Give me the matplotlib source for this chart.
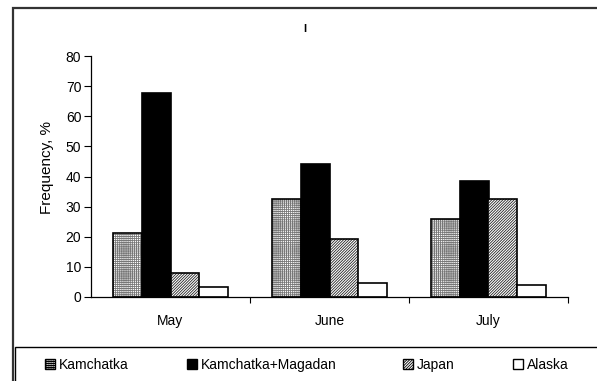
import matplotlib
matplotlib.use("Agg")
import matplotlib.pyplot as plt
from matplotlib.patches import Rectangle, Patch
import numpy as np

plt.rcParams['font.family'] = ['Liberation Sans', 'DejaVu Sans']
plt.rcParams['hatch.linewidth'] = 0.6

months = ["May", "June", "July"]
series_names = ["Kamchatka", "Kamchatka+Magadan", "Japan", "Alaska"]
kamchatka = [21.4, 32.6, 25.8]
kamchatka_magadan = [67.6, 44.0, 38.5]
japan = [8.1, 19.3, 32.6]
alaska = [3.3, 4.6, 3.9]
yticks = [0, 10, 20, 30, 40, 50, 60, 70, 80]

W, H = 597, 381
FS = 10
fig = plt.figure(figsize=(W / 100, H / 100), dpi=100)

def fx(px):
    return px / W

def fy(py):
    return 1 - py / H

# outer frame (extends beyond canvas on right and bottom)
fig.patches.append(Rectangle((fx(13), fy(400)), fx(620) - fx(13), fy(7.5) - fy(400),
                             transform=fig.transFigure, fill=False,
                             edgecolor='#333333', linewidth=1.6))
# legend frame
fig.patches.append(Rectangle((fx(15), fy(400)), fx(620) - fx(15), fy(347) - fy(400),
                             transform=fig.transFigure, fill=False,
                             edgecolor='black', linewidth=1.0))

ax = fig.add_axes([fx(91), fy(297), fx(568) - fx(91), fy(56) - fy(297)])

x = np.arange(len(months))
width = 0.18
offsets = [-1.5 * width, -0.5 * width, 0.5 * width, 1.5 * width]
styles = [
    dict(facecolor='white', hatch='++++++++', edgecolor='#777777'),
    dict(facecolor='black', hatch=None, edgecolor='black'),
    dict(facecolor='white', hatch='////////////', edgecolor='#222222'),
    dict(facecolor='white', hatch=None, edgecolor='black'),
]
data = [kamchatka, kamchatka_magadan, japan, alaska]
for vals, off, st in zip(data, offsets, styles):
    ax.bar(x + off, vals, width, facecolor=st['facecolor'],
           hatch=st['hatch'], edgecolor=st['edgecolor'], linewidth=0)
    ax.bar(x + off, vals, width, fill=False, edgecolor='black', linewidth=1.2)

ax.set_xlim(-0.5, 2.5)
ax.set_ylim(0, 80)
ax.set_yticks(yticks)
ax.set_yticklabels([str(v) for v in yticks], fontsize=FS)
ax.set_xticks(x)
ax.set_xticklabels(months, fontsize=FS)
ax.tick_params(axis='x', which='major', length=0, pad=12)
ax.set_xticks([0.5, 1.5, 2.5], minor=True)
ax.tick_params(axis='x', which='minor', length=4, width=0.8, direction='out')
ax.tick_params(axis='y', length=5, width=0.8, direction='out', pad=2)
for s in ['top', 'right']:
    ax.spines[s].set_visible(False)
for s in ['left', 'bottom']:
    ax.spines[s].set_linewidth(0.9)
ax.set_ylabel("Frequency, %", fontsize=11)
ax.yaxis.set_label_coords(-(91 - 47) / (568 - 91), (297 - 168) / (297 - 56))
ax.yaxis.label.set_va('center')

fig.text(fx(305), fy(29), "I", fontsize=8, ha='center', va='center', fontweight='bold')

# legend entries
leg_x = [45, 187, 403, 513]
for name, st, lx in zip(series_names, styles, leg_x):
    h = Patch(facecolor=st['facecolor'], hatch=st['hatch'], edgecolor='black', linewidth=1.0)
    fig.legend([h], [name], loc='center left', bbox_to_anchor=(fx(lx), fy(365)),
               frameon=False, fontsize=FS, handlelength=0.75, handleheight=0.75,
               handletextpad=0.25, borderaxespad=0, borderpad=0)

fig.savefig("out.png", dpi=100)
